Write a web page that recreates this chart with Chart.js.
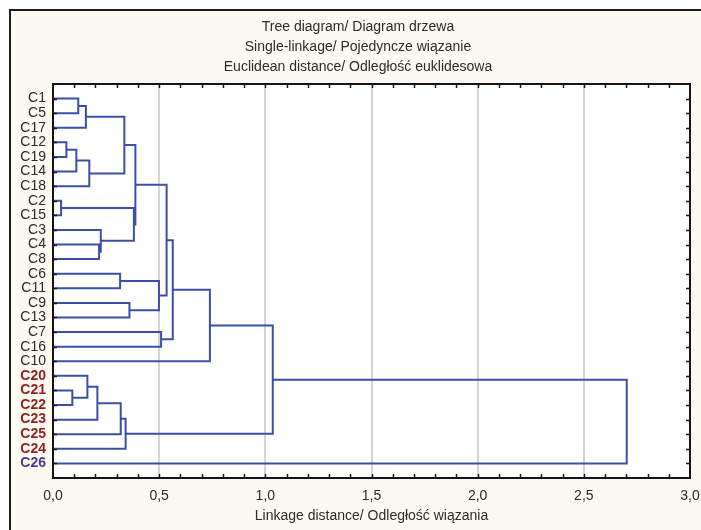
<!DOCTYPE html>
<html><head><meta charset="utf-8">
<script src="https://cdn.jsdelivr.net/npm/chart.js@4/dist/chart.umd.min.js"></script>
<style>html,body{margin:0;padding:0;background:#fff}#wrap{width:701px;height:530px}</style>
</head><body><div id="wrap"><canvas id="c" width="701" height="530"></canvas></div>
<script>
// ---- data ----
const titleLines = ['Tree diagram/ Diagram drzewa', 'Single-linkage/ Pojedyncze wiązanie', 'Euclidean distance/ Odległość euklidesowa'];
const xAxisTitle = 'Linkage distance/ Odległość wiązania';
const leaves = ['C1','C5','C17','C12','C19','C14','C18','C2','C15','C3','C4','C8','C6','C11','C9','C13','C7','C16','C10','C20','C21','C22','C23','C25','C24','C26'];
const redLeaves = ['C20','C21','C22','C23','C24','C25'];
const purpleLeaves = ['C26'];
// merges ("#k" = cluster formed by merge k, 1-based)
const mergeLeft  = ['C1','#1','C12','#3','#4','#2','C2','C4','C3','#7','#6','C6','C9','#12','#11','C7','#15','#17','C21','C20','#20','#21','#22','#18','#24'];
const mergeRight = ['C5','C17','C19','C14','C18','#5','C15','C8','#8','#9','#10','C11','C13','#13','#14','C16','#16','C10','C22','#19','C23','C25','C24','#23','C26'];
const mergeDistance = [0.119,0.155,0.063,0.110,0.171,0.336,0.038,0.217,0.225,0.381,0.388,0.316,0.360,0.499,0.535,0.509,0.564,0.739,0.091,0.162,0.209,0.319,0.342,1.035,2.702];
const xTicks = {min: 0, max: 3, step: 0.5, minorStep: 0.1};

// ---- styles ----
const FONT = '"Liberation Sans", Arial, sans-serif';
const TEXT = '#2b2b2b';
const LINE = '#3b4fa6';

// ---- build dendrogram segments ----
const nodes = {};
leaves.forEach((n, i) => { nodes[n] = {x: 0, y: i + 1}; });
const datasets = [];
mergeDistance.forEach((h, k) => {
  const a = nodes[mergeLeft[k]], b = nodes[mergeRight[k]];
  datasets.push({
    data: [{x: a.x, y: a.y}, {x: h, y: a.y}, {x: h, y: b.y}, {x: b.x, y: b.y}],
    showLine: true, borderColor: LINE, borderWidth: 2, pointRadius: 0,
    fill: false, tension: 0, borderJoinStyle: 'miter', borderCapStyle: 'butt'
  });
  nodes['#' + (k + 1)] = {x: h, y: (a.y + b.y) / 2};
});

const framePlugin = {
  id: 'frame',
  beforeDraw(chart) {
    const ctx = chart.ctx, W = chart.width, H = chart.height, a = chart.chartArea;
    ctx.save();
    ctx.fillStyle = '#ffffff'; ctx.fillRect(0, 0, W, H);
    ctx.fillStyle = '#fcf9f0'; ctx.fillRect(10, 10, W - 10, H - 10);
    ctx.fillStyle = '#1e1e1e';
    ctx.fillRect(9, 9, W - 9, 2);
    ctx.fillRect(9, 9, 2, H - 9);
    ctx.fillStyle = '#ffffff';
    ctx.fillRect(a.left, a.top, a.right - a.left, a.bottom - a.top);
    ctx.restore();
  },
  afterDraw(chart) {
    const ctx = chart.ctx, a = chart.chartArea, xs = chart.scales.x, ys = chart.scales.y;
    ctx.save();
    ctx.strokeStyle = '#151515';
    ctx.lineWidth = 2;
    ctx.strokeRect(a.left, a.top, a.right - a.left, a.bottom - a.top);
    ctx.lineWidth = 1.5;
    ctx.beginPath();
    const n = Math.round((xTicks.max - xTicks.min) / xTicks.minorStep);
    for (let i = 1; i < n; i++) {
      const px = Math.round(xs.getPixelForValue(xTicks.min + i * xTicks.minorStep)) + 0.5;
      ctx.moveTo(px, a.top); ctx.lineTo(px, a.top + 4);
      ctx.moveTo(px, a.bottom); ctx.lineTo(px, a.bottom - 4);
    }
    leaves.forEach((_, i) => {
      const py = Math.round(ys.getPixelForValue(i + 1)) + 0.5;
      ctx.moveTo(a.left, py); ctx.lineTo(a.left + 4, py);
      ctx.moveTo(a.right, py); ctx.lineTo(a.right - 4, py);
    });
    ctx.stroke();
    ctx.fillStyle = TEXT;
    ctx.font = '14px ' + FONT;
    ctx.textAlign = 'center';
    ctx.textBaseline = 'middle';
    titleLines.forEach((t, i) => ctx.fillText(t, 358, 27 + i * 20));
    ctx.restore();
  }
};

new Chart(document.getElementById('c'), {
  type: 'scatter',
  data: {datasets},
  plugins: [framePlugin],
  options: {
    responsive: false, animation: false, events: [],
    layout: {padding: {top: 84, right: 11, left: 0, bottom: 0}},
    plugins: {legend: {display: false}, tooltip: {enabled: false}, title: {display: false}},
    scales: {
      x: {
        type: 'linear', position: 'bottom', min: xTicks.min, max: xTicks.max,
        ticks: {stepSize: xTicks.step, callback: v => Number(v).toFixed(1).replace('.', ','),
                font: {family: FONT, size: 14}, color: TEXT, padding: 10, maxRotation: 0, autoSkip: false},
        grid: {color: '#d4d4d4', lineWidth: 2, drawTicks: false},
        border: {display: false},
        title: {display: true, text: xAxisTitle, font: {family: FONT, size: 14}, color: TEXT, padding: {top: 0, bottom: 5}},
        afterFit: s => { s.height = 52; s.paddingLeft = 0; s.paddingRight = 0; }
      },
      y: {
        type: 'linear', reverse: true, min: 0, max: leaves.length + 1,
        afterBuildTicks: s => { s.ticks = leaves.map((_, i) => ({value: i + 1})); },
        ticks: {
          autoSkip: false, padding: 7,
          callback: (v, i) => leaves[i],
          font: c => ({family: FONT, size: 14, weight: (redLeaves.includes(leaves[c.index]) || purpleLeaves.includes(leaves[c.index])) ? 'bold' : 'normal'}),
          color: c => redLeaves.includes(leaves[c.index]) ? '#8e1f1f' : (purpleLeaves.includes(leaves[c.index]) ? '#4a3a96' : TEXT)
        },
        grid: {display: false, drawTicks: false},
        border: {display: false},
        afterFit: s => { s.width = 53; s.paddingTop = 0; s.paddingBottom = 0; }
      }
    }
  }
});
</script>
</body></html>
